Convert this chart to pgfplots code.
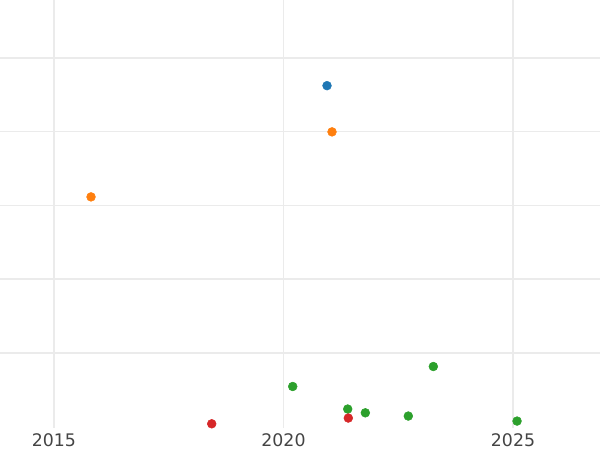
\documentclass[border=0pt]{standalone}
\usepackage{pgfplots}
\pgfplotsset{compat=1.18}
\usepackage{fontspec}
\setmainfont{DejaVu Sans}
\definecolor{tblue}{HTML}{1F77B4}
\definecolor{torange}{HTML}{FF7F0E}
\definecolor{tgreen}{HTML}{2CA02C}
\definecolor{tred}{HTML}{D62728}
\definecolor{gridc}{HTML}{EBEBEB}
\definecolor{txt}{HTML}{444444}
\begin{document}
\begin{tikzpicture}
\begin{axis}[
  at={(0,0)}, anchor=south west,
  scale only axis,
  width=450pt, height=321pt,
  xmin=2013.824, xmax=2026.895,
  ymin=-0.02, ymax=5.786,
  axis line style={draw=none},
  xtick={2015,2020,2025},
  ytick={1,2,3,4,5},
  yticklabels={},
  major tick length=0pt,
  xmajorgrids, ymajorgrids,
  grid style={gridc, line width=1.1pt},
  tick label style={font=\fontsize{13}{15}\selectfont, text=txt},
  /pgf/number format/assume math mode=true,
  /pgf/number format/1000 sep={},
  xticklabel style={yshift=-1pt},
  clip=true,
  clip marker paths=true,
]
\addplot[only marks, mark=*, mark size=3.3pt, color=tblue] coordinates {(2020.948,4.624)};
\addplot[only marks, mark=*, mark size=3.3pt, color=torange] coordinates {(2015.807,3.115) (2021.057,3.997)};
\addplot[only marks, mark=*, mark size=3.3pt, color=tgreen] coordinates {
(2020.201,0.543) (2021.399,0.237) (2021.783,0.186) (2022.719,0.142) (2023.264,0.814) (2025.088,0.074)};
\addplot[only marks, mark=*, mark size=3.3pt, color=tred] coordinates {(2018.436,0.037) (2021.412,0.115)};
\end{axis}
\pgfresetboundingbox
\path[use as bounding box] (0,-16.5pt) rectangle (450pt,321pt);
\end{tikzpicture}
\end{document}
